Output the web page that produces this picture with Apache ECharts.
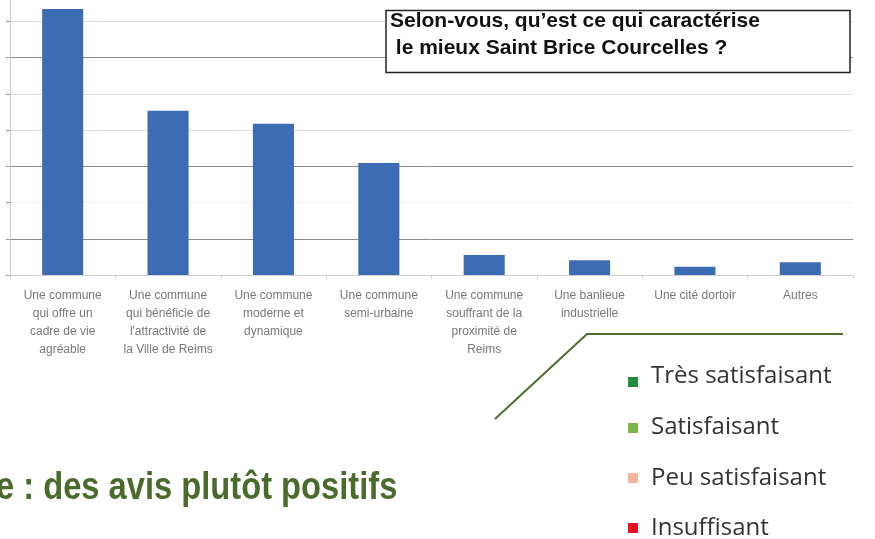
<!DOCTYPE html>
<html>
<head>
<meta charset="utf-8">
<title>Saint Brice Courcelles</title>
<script src="https://cdn.jsdelivr.net/npm/echarts@6/dist/echarts.min.js"></script>
<style>
    html, body {
        margin: 0;
        padding: 0;
        background: #fff;
    }
    #main {
        width: 875px;
        height: 539px;
    }
</style>
</head>
<body>
<div id="main"></div>
<script>

    // categories (one label per bar, line breaks as in the scan)
    var categories = [
        'Une commune\nqui offre un\ncadre de vie\nagréable',
        'Une commune\nqui bénéficie de\nl\'attractivité de\nla Ville de Reims',
        'Une commune\nmoderne et\ndynamique',
        'Une commune\nsemi-urbaine',
        'Une commune\nsouffrant de la\nproximité de\nReims',
        'Une banlieue\nindustrielle',
        'Une cité dortoir',
        'Autres'
    ];

    // values
    var values = [73.4, 45.3, 41.7, 30.9, 5.5, 4.1, 2.3, 3.5];

    // y axis ticks (labels are cut off in the scan)
    var yMin = 0;
    var yMax = 80;
    var yStep = 10;

    var titleLines = ['Selon-vous, qu\u2019est ce qui caractérise', ' le mieux Saint Brice Courcelles ?'];
    var legendNames = ['Très satisfaisant', 'Satisfaisant', 'Peu satisfaisant', 'Insuffisant'];
    var legendColors = ['#1f8c3f', '#7cb64a', '#f6b49c', '#e3101f'];
    var heading = 'e : des avis plutôt positifs';

    var myChart = echarts.init(document.getElementById('main'), null, { renderer: 'canvas' });

    // split lines look uneven in the scan: some dark, some very pale
    var splitColors = ['#d6d6d6', '#8c8c8c', '#f2f2f2', '#8c8c8c', '#dedede', '#dedede', '#8c8c8c', '#dedede', '#dedede'];

    // leftover legend from the next chart on the page
    var legendItems = [];
    var textY = [376, 427, 478, 528];
    var boxY = [382, 428, 478, 528];
    legendNames.forEach(function (name, i) {
        legendItems.push({
            type: 'rect',
            shape: { x: 628, y: boxY[i] - 5, width: 10, height: 10 },
            style: { fill: legendColors[i] }
        });
        legendItems.push({
            type: 'text',
            x: 651,
            y: textY[i],
            style: {
                text: name,
                font: '24px "Open Sans"',
                fill: '#333',
                verticalAlign: 'middle'
            }
        });
    });

    myChart.setOption({
        animation: false,
        color: ['#3c6db4'],
        grid: {
            left: 10,
            right: 22,
            top: -15,
            bottom: 264,
            containLabel: false,
            outerBoundsMode: 'none'
        },
        xAxis: {
            type: 'category',
            data: categories,
            axisLine: { lineStyle: { color: '#d0d0d0' } },
            axisTick: { show: true, length: 4, lineStyle: { color: '#cfcfcf' } },
            axisLabel: {
                interval: 0,
                margin: 12,
                fontSize: 12,
                lineHeight: 18,
                color: '#777',
                fontFamily: 'Liberation Sans'
            }
        },
        yAxis: {
            type: 'value',
            min: yMin,
            max: yMax,
            interval: yStep,
            axisLine: { show: true, lineStyle: { color: '#c8c8c8' } },
            axisTick: { show: true, length: 4, lineStyle: { color: '#999' } },
            axisLabel: { show: false },
            splitLine: { lineStyle: { color: splitColors, width: 1 } }
        },
        series: [
            {
                type: 'bar',
                barWidth: '39%',
                data: values
            }
        ],
        graphic: [
            {
                type: 'rect',
                shape: { x: 386, y: 10.5, width: 464, height: 62 },
                style: { fill: '#fff', stroke: '#222', lineWidth: 1.5 },
                z: 10
            },
            {
                type: 'text',
                x: 390,
                y: 8,
                z: 11,
                style: {
                    text: titleLines.join('\n'),
                    font: 'bold 21px "Liberation Sans"',
                    lineHeight: 27,
                    fill: '#111',
                    verticalAlign: 'top'
                }
            },
            {
                type: 'polyline',
                shape: { points: [[495, 419], [587, 334], [843, 334]] },
                style: { stroke: '#4c6f2c', lineWidth: 2, fill: null }
            },
            {
                type: 'text',
                x: -4,
                y: 489,
                scaleX: 0.86,
                style: {
                    text: heading,
                    font: 'bold 38px "Liberation Sans"',
                    fill: '#4a6b2c',
                    verticalAlign: 'middle'
                }
            }
        ].concat(legendItems)
    });

</script>
</body>
</html>
